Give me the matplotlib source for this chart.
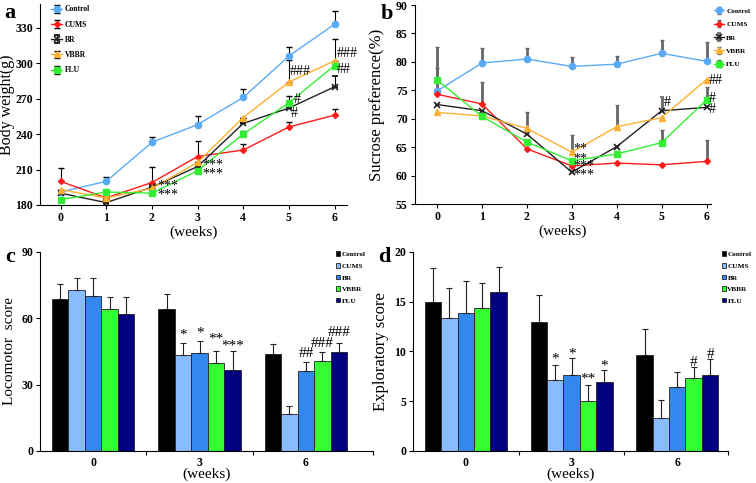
import matplotlib
matplotlib.use('Agg')
import matplotlib.pyplot as plt
import numpy as np

plt.rcParams['font.family'] = ['Liberation Serif', 'DejaVu Serif']
plt.rcParams['font.weight'] = 'bold'
plt.rcParams['axes.linewidth'] = 0.8

groups = ['Control', 'CUMS', 'BR', 'VBBR', 'FLU']
weeks = [0, 1, 2, 3, 4, 5, 6]

# body weight (g)
bw = {
    'Control': [191, 200, 233, 248, 271, 306, 333],
    'CUMS':    [200, 186, 199, 221, 226.5, 246, 256],
    'BR':      [190, 182, 195, 212.5, 249, 262, 280],
    'VBBR':    [193, 186, 194, 216, 254, 284, 302],
    'FLU':     [184.5, 191, 190, 209, 240, 266.5, 298],
}
bw_err = {
    'Control': [0, 4, 4.5, 7.5, 7, 8, 11.5],
    'CUMS':    [11, 0, 0, 13, 5.5, 4.5, 5.5],
    'BR':      [0, 0, 0, 0, 0, 0, 9],
    'VBBR':    [0, 0, 18, 0, 0, 19, 18.5],
    'FLU':     [0, 0, 0, 0, 2.5, 6, 0],
}

# sucrose preference (%)
sp = {
    'Control': [74.9, 79.8, 80.5, 79.2, 79.6, 81.5, 80.1],
    'CUMS':    [74.3, 72.6, 64.7, 61.7, 62.2, 61.9, 62.5],
    'BR':      [72.5, 71.4, 67.3, 60.6, 65.1, 71.4, 72.0],
    'VBBR':    [71.1, 70.5, 68.3, 64.1, 68.6, 70.2, 76.9],
    'FLU':     [76.8, 70.4, 65.9, 62.6, 63.8, 65.8, 73.3],
}
sp_err = {
    'Control': [4.0, 2.6, 1.9, 1.7, 1.5, 2.3, 3.4],
    'CUMS':    [0, 3.9, 0, 0, 0, 0, 3.7],
    'BR':      [0, 0, 0, 0, 0, 2.4, 0],
    'VBBR':    [0, 0, 2.9, 3.0, 3.9, 0, 0],
    'FLU':     [5.9, 0, 0, 0, 0, 2.3, 2.2],
}

bar_labels = ['0', '3', '6']
loco = {
    'Control': [68.7, 64.2, 44.0],
    'CUMS':    [72.8, 43.4, 16.7],
    'BR':      [70.3, 44.5, 36.0],
    'VBBR':    [64.4, 39.7, 40.8],
    'FLU':     [62.1, 36.8, 44.6],
}
loco_err = {
    'Control': [6.7, 6.8, 4.3],
    'CUMS':    [5.3, 5.3, 3.8],
    'BR':      [7.8, 5.3, 4.2],
    'VBBR':    [5.1, 5.5, 3.8],
    'FLU':     [7.4, 8.4, 4.4],
}
expl = {
    'Control': [15.0, 13.0, 9.65],
    'CUMS':    [13.4, 7.1, 3.3],
    'BR':      [13.9, 7.64, 6.46],
    'VBBR':    [14.4, 5.06, 7.3],
    'FLU':     [15.95, 6.97, 7.64],
}
expl_err = {
    'Control': [3.4, 2.7, 2.65],
    'CUMS':    [2.95, 1.55, 1.8],
    'BR':      [3.2, 1.66, 1.5],
    'VBBR':    [2.45, 1.54, 1.1],
    'FLU':     [2.5, 1.13, 1.6],
}

line_style = {
    'Control': dict(color='#5aaaf5', marker='o', ms=4.5),
    'CUMS':    dict(color='#ff1a1a', marker='D', ms=3),
    'BR':      dict(color='#222222', marker='x', ms=4.5, mew=1.2),
    'VBBR':    dict(color='#ffb030', marker='^', ms=5),
    'FLU':     dict(color='#33ee33', marker='s', ms=5),
}
bar_colors = ['#000000', '#88bbff', '#3388ee', '#33ff33', '#000080']

fig = plt.figure(figsize=(7.56, 4.83), dpi=100)
ax_a = fig.add_axes([0.0529, 0.5756, 0.406, 0.416])
ax_b = fig.add_axes([0.5485, 0.5776, 0.392, 0.412])
ax_c = fig.add_axes([0.0529, 0.0663, 0.4405, 0.412])
ax_d = fig.add_axes([0.5463, 0.0663, 0.4167, 0.412])

for ax in [ax_a, ax_b, ax_c, ax_d]:
    ax.spines['top'].set_visible(False)
    ax.spines['right'].set_visible(False)
    ax.tick_params(labelsize=8.5, width=0.8, length=3, pad=2)

# panel a
for g in groups:
    st = line_style[g]
    ax_a.errorbar(weeks, bw[g], yerr=[np.zeros(7), bw_err[g]], color=st['color'],
                  ecolor='black', elinewidth=0.8, capsize=2, capthick=0.8,
                  lw=1, marker=st['marker'], ms=st['ms'], mew=st.get('mew', 1),
                  label=g)
ax_a.set_xlim(-0.45, 6.27)
ax_a.set_ylim(180, 350)
ax_a.set_xticks(weeks)
ax_a.set_yticks([180, 210, 240, 270, 300, 330])
ax_a.set_ylabel('Body weight(g)', fontsize=11.5)
ax_a.yaxis.set_label_coords(-0.08, 0.5)
ax_a.set_xlabel('(weeks)', fontsize=11, labelpad=1)
ax_a.legend(loc='upper left', bbox_to_anchor=(0.02, 1.02), frameon=False,
            fontsize=5.5, handlelength=1.4, handletextpad=0.3, labelspacing=0.95,
            borderpad=0.2)
ann_a = [(2.12, 196, '***'), (2.12, 188.5, '***'), (3.1, 213.5, '***'), (3.1, 206.5, '***'),
         (5.02, 293, '###'), (5.1, 269.5, '#'), (5.05, 257.5, '#'),
         (6.05, 308, '###'), (6.05, 295, '##')]
for x, y, t in ann_a:
    ax_a.text(x, y, t, fontsize=10, fontweight='normal', va='center', ha='left')
ax_a.text(-0.115, 0.93, 'a', transform=ax_a.transAxes, fontsize=16, ha='left')

# panel b
for g in groups:
    st = line_style[g]
    ax_b.errorbar(weeks, sp[g], yerr=[np.zeros(7), sp_err[g]], color=st['color'],
                  ecolor='#666666', elinewidth=2, capsize=1.2, capthick=1.2,
                  lw=1, marker=st['marker'], ms=st['ms'], mew=st.get('mew', 1),
                  label=g)
ax_b.set_xlim(-0.5, 6.1)
ax_b.set_ylim(55, 90)
ax_b.set_xticks(weeks)
ax_b.set_yticks(range(55, 91, 5))
ax_b.set_ylabel('Sucrose preference(%)', fontsize=12)
ax_b.yaxis.set_label_coords(-0.1, 0.5)
ax_b.set_xlabel('(weeks)', fontsize=11, labelpad=1)
ax_b.legend(loc='upper left', bbox_to_anchor=(1.0, 1.0), frameon=False,
            fontsize=5.2, handlelength=1.4, handletextpad=0.3, labelspacing=1.0,
            borderpad=0.2, borderaxespad=0.2)
ann_b = [(3.03, 64.6, '**'), (3.03, 62.9, '**'), (3.03, 61.6, '***'), (3.03, 60.1, '***'),
         (5.05, 72.8, '#'), (6.05, 76.8, '##'), (6.05, 73.6, '#'), (6.05, 71.7, '#')]
for x, y, t in ann_b:
    ax_b.text(x, y, t, fontsize=10, fontweight='normal', va='center', ha='left')
ax_b.text(-0.115, 0.93, 'b', transform=ax_b.transAxes, fontsize=16, ha='left')


def bar_panel(ax, data, err, ylim, yticks, ylabel, ysize, anns, letter, xmax, leg_x, let_x):
    w = 0.155
    x = np.arange(len(bar_labels))
    for i, g in enumerate(groups):
        ax.bar(x + (i - 2) * w, data[g], w, color=bar_colors[i], edgecolor='#222222',
               lw=0.6, label=g,
               yerr=[np.zeros(3), err[g]], error_kw=dict(ecolor='#222222', elinewidth=0.8,
                                                        capsize=2, capthick=0.8))
    ax.set_xlim(-0.5, xmax)
    ax.set_ylim(*ylim)
    ax.set_yticks(yticks)
    ax.set_xticks(x)
    ax.set_xticklabels(bar_labels)
    ax.tick_params(axis='x', length=0, pad=4)
    ax.set_xticks([0.5, 1.5, xmax], minor=True)
    ax.tick_params(axis='x', which='minor', length=3, width=0.8)
    ax.set_ylabel(ylabel, fontsize=ysize, labelpad=4)
    ax.set_xlabel('(weeks)', fontsize=11, labelpad=-1)
    ax.legend(loc='upper left', bbox_to_anchor=(leg_x, 1.01), frameon=False,
              fontsize=5.2, handlelength=0.6, handleheight=0.6, handletextpad=0.2,
              labelspacing=0.8, borderpad=0.1, borderaxespad=0.1)
    for gi, bi, y, t in anns:
        ax.text(gi + (bi - 2) * w, y, t, fontsize=11, fontweight='normal',
                ha='center', va='center')
    ax.text(let_x, 0.95, letter, transform=ax.transAxes, fontsize=16, ha='left')


ann_c = [(1, 1, 52.5, '*'), (1, 2, 53.4, '*'), (1, 3, 50.5, '**'), (1, 4, 47.3, '***'),
         (2, 2, 44.3, '##'), (2, 3, 48.8, '###'), (2, 4, 53.8, '###')]
bar_panel(ax_c, loco, loco_err, (0, 90), [0, 30, 60, 90], 'Locomotor  score', 11,
          ann_c, 'c', 2.63, 0.885, -0.105)

ann_d = [(1, 1, 9.2, '*'), (1, 2, 9.75, '*'), (1, 3, 7.2, '**'), (1, 4, 8.55, '*'),
         (2, 3, 8.85, '#'), (2, 4, 9.7, '#')]
bar_panel(ax_d, expl, expl_err, (0, 20), [0, 5, 10, 15, 20], 'Exploratory score', 12,
          ann_d, 'd', 2.48, 0.975, -0.11)

fig.savefig('out.png', dpi=100)
